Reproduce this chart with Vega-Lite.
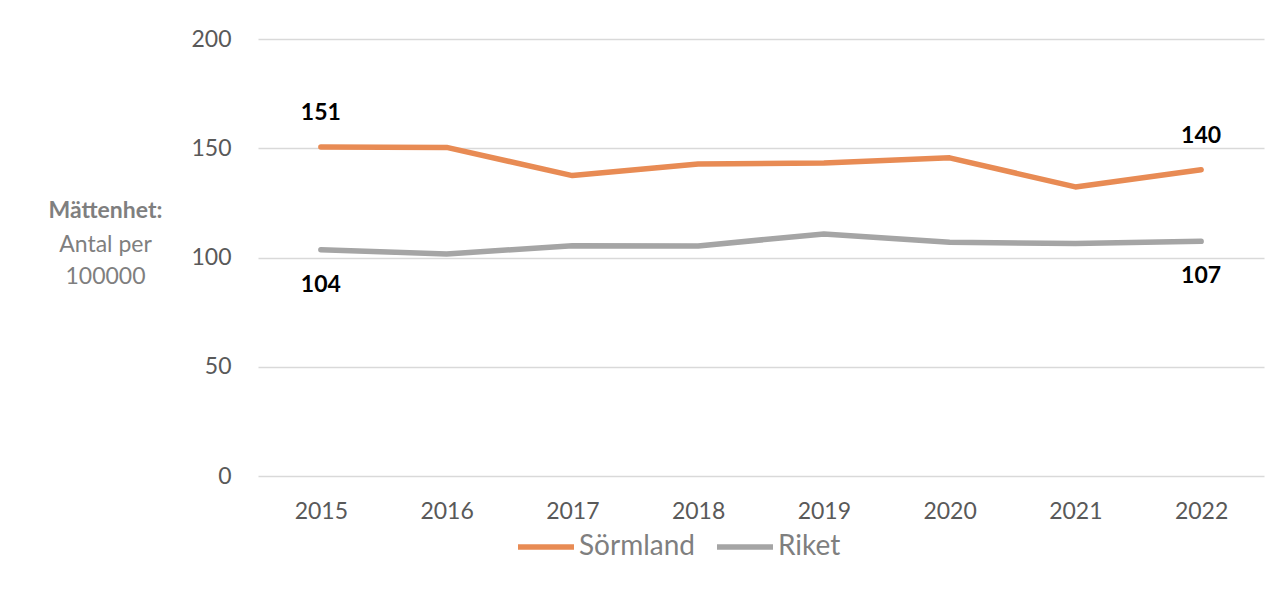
{
  "$schema": "https://vega.github.io/schema/vega-lite/v6.json",
  "width": 1006,
  "height": 437,
  "autosize": {"type": "none"},
  "padding": {"left": 258, "top": 39, "right": 20, "bottom": 130},
  "background": "white",
  "config": {"view": {"stroke": null}, "font": "Lato"},
  "data": {
    "values": [
      {"year": "2015", "series": "Sörmland", "value": 150.6},
      {"year": "2016", "series": "Sörmland", "value": 150.4},
      {"year": "2017", "series": "Sörmland", "value": 137.5},
      {"year": "2018", "series": "Sörmland", "value": 142.8},
      {"year": "2019", "series": "Sörmland", "value": 143.3},
      {"year": "2020", "series": "Sörmland", "value": 145.6},
      {"year": "2021", "series": "Sörmland", "value": 132.3},
      {"year": "2022", "series": "Sörmland", "value": 140.2},
      {"year": "2015", "series": "Riket", "value": 103.6},
      {"year": "2016", "series": "Riket", "value": 101.6},
      {"year": "2017", "series": "Riket", "value": 105.4},
      {"year": "2018", "series": "Riket", "value": 105.3},
      {"year": "2019", "series": "Riket", "value": 110.8},
      {"year": "2020", "series": "Riket", "value": 107.0},
      {"year": "2021", "series": "Riket", "value": 106.4},
      {"year": "2022", "series": "Riket", "value": 107.4}
    ]
  },
  "encoding": {
    "x": {
      "field": "year",
      "type": "ordinal",
      "scale": {"type": "point", "padding": 0.5},
      "axis": {
        "title": null,
        "domain": false,
        "ticks": false,
        "grid": false,
        "labelAngle": 0,
        "labelFontSize": 23,
        "labelColor": "#595959",
        "labelPadding": 24
      }
    }
  },
  "layer": [
    {
      "mark": {"type": "line", "strokeWidth": 5.5, "strokeCap": "round", "strokeJoin": "round"},
      "encoding": {
        "y": {
          "field": "value",
          "type": "quantitative",
          "scale": {"domain": [0, 200]},
          "axis": {
            "values": [0, 50, 100, 150, 200],
            "grid": true,
            "gridColor": "#D9D9D9",
            "gridWidth": 1.3,
            "domain": false,
            "ticks": false,
            "labelFontSize": 23,
            "labelColor": "#595959",
            "labelPadding": 27,
            "title": ["Antal per", "100000"],
            "titleAngle": 0,
            "titleFontSize": 23,
            "titleFontWeight": "normal",
            "titleColor": "#7f7f7f",
            "titleX": -153,
            "titleY": 205,
            "titleAlign": "center",
            "titleBaseline": "middle",
            "titleLineHeight": 32
          }
        },
        "color": {
          "field": "series",
          "type": "nominal",
          "scale": {"domain": ["Sörmland", "Riket"], "range": ["#E88B54", "#A5A5A5"]},
          "legend": {
            "orient": "none",
            "legendX": 257,
            "legendY": 477,
            "direction": "horizontal",
            "title": null,
            "symbolType": "stroke",
            "symbolStrokeWidth": 5.5,
            "symbolSize": 3136,
            "labelFontSize": 28,
            "labelColor": "#7f7f7f",
            "labelOffset": 2,
            "columnPadding": 10
          }
        }
      }
    },
    {
      "transform": [{"filter": "datum.series == 'Sörmland' && (datum.year == '2015' || datum.year == '2022')"}],
      "mark": {"type": "text", "dy": -34, "fontSize": 23, "fontWeight": "bold", "color": "black"},
      "encoding": {
        "y": {
          "field": "value",
          "type": "quantitative",
          "scale": {"domain": [0, 200]},
          "axis": {
            "orient": "left",
            "labels": false,
            "ticks": false,
            "domain": false,
            "grid": false,
            "title": "Mättenhet:",
            "titleAngle": 0,
            "titleFontSize": 23,
            "titleFontWeight": "bold",
            "titleColor": "#7f7f7f",
            "titleX": -153,
            "titleY": 171,
            "titleAlign": "center",
            "titleBaseline": "middle"
          }
        },
        "text": {"field": "value", "type": "quantitative", "format": ".0f"}
      }
    },
    {
      "transform": [{"filter": "datum.series == 'Riket' && (datum.year == '2015' || datum.year == '2022')"}],
      "mark": {"type": "text", "dy": 35, "fontSize": 23, "fontWeight": "bold", "color": "black"},
      "encoding": {
        "y": {
          "field": "value",
          "type": "quantitative",
          "scale": {"domain": [0, 200]},
          "axis": null
        },
        "text": {"field": "value", "type": "quantitative", "format": ".0f"}
      }
    }
  ],
  "resolve": {"axis": {"y": "independent"}}
}
